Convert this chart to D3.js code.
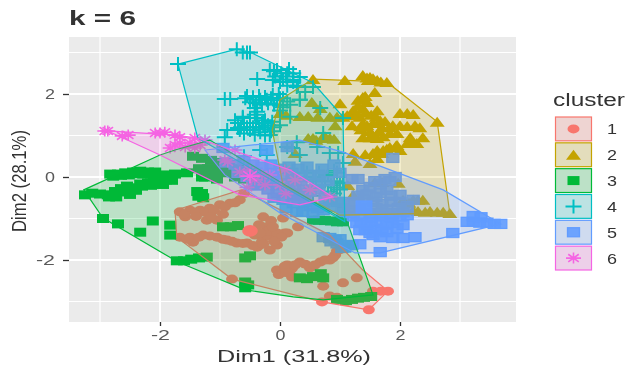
<!DOCTYPE html>
<html>
<head>
<meta charset="utf-8">
<script src="https://cdn.jsdelivr.net/npm/d3@7"></script>
<style>
html, body { margin: 0; padding: 0; background: #fff; }
svg { display: block; filter: blur(0.6px); font-family: "Liberation Sans", Arial, sans-serif; }
</style>
</head>
<body>
<div id="chart"></div>
<script>
const clusters = ["1", "2", "3", "4", "5", "6"];
const colors = ["#F8766D", "#C4A300", "#00BA38", "#00BFC4", "#619CFF", "#F564E3"];
const xTicks = [-2, 0, 2];
const yTicks = [-2, 0, 2];
const xMinor = [-3, -1, 1, 3];
const yMinor = [-3, -1, 1, 3];

// [Dim1, Dim2]
const points1 = [[-1.67,-.84],[-1.5,-.8],[-1.33,-.8],[-1.17,-.75],[-1,-.67],[-.83,-.63],[-.67,-.55],[-.6,-.4],[-1.22,-1.04],[-1.05,-1.04],[-1.58,-.96],[-1.67,-1.45],[-1.5,-1.45],[-1.45,-1.57],[-1.28,-1.4],[-1.05,-1.45],[-.88,-1.52],[-.72,-1.59],[-.55,-1.59],[-.38,-1.69],[-.28,-1.45],[-.12,-1.35],[.12,-1.35],[-.22,-1.2],[-.17,-1.76],[-.05,-1.64],[-.28,-.96],[.05,-.99],[-.05,-2.24],[.12,-2.12],[.33,-2.05],[.17,-2.24],[.5,-2.19],[.67,-2.05],[.83,-2],[.92,-1.88],[.2,-2.41],[.72,-2.63],[1.05,-2.55],[1.28,-2.43],[.83,-2.87],[.7,-3.01],[1.48,-3.2],[1.55,-2.75],[1.68,-2.75],[1.8,-2.75],[-.8,-2.46],[.3,-1.2],[.08,-1.35],[-.42,-1.4],[-.35,-1.15],[-.15,-1.05],[.95,-2.9],[1.1,-3],[-1.6,-.9],[-1.4,-.85],[-1.25,-.85],[-1.1,-.8],[-.92,-.72],[-.75,-.62],[-.95,-.9],[-1.15,-.95],[-1.4,-.95],[-1.55,-1.5],[-1.35,-1.45],[-1.17,-1.42],[-.95,-1.5],[-.8,-1.55],[-.62,-1.6],[-.45,-1.65],[-.3,-1.55],[-.2,-1.42],[-.2,-1.3],[-.05,-1.35],[.02,-1.45],[-.1,-1.55],[-.12,-1.2],[-.28,-1.62],[-.33,-1.35],[.2,-2.2],[.08,-2.15],[.25,-2.12],[.42,-2.1],[.58,-2.12],[.75,-2],[.88,-1.95],[.95,-1.78],[-.02,-2.35],[.1,-2.3],[1,-1.75]];
const points2 = [[.55,2.36],[1.08,2.34],[1.38,2.46],[1.5,2.41],[1.62,2.34],[1.78,2.29],[1.47,2.34],[1.58,2.05],[1.38,1.93],[1.3,1.86],[1,1.78],[1.45,1.81],[1.22,1.61],[1.38,1.66],[1.62,1.61],[2.12,1.54],[2.22,1.52],[2,1.54],[2.62,1.33],[1.12,1.49],[1.33,1.45],[.95,1.45],[.83,1.45],[1.05,1.45],[1.67,1.37],[1.88,1.25],[2.12,1.23],[2.33,1.2],[1.2,1.25],[1.45,1.25],[1.95,1.06],[1.83,1.06],[2.17,.96],[2.38,.96],[1.5,.96],[1.38,.96],[1.62,.94],[.55,.94],[.7,.94],[.83,.94],[.47,.94],[.92,1.25],[1.95,.77],[2.12,.82],[2.28,.82],[1.83,.72],[1.62,.65],[1.72,.65],[2,.65],[1.22,.58],[1.42,.55],[1.25,.39],[1.5,.34],[1.62,.46],[.25,.58],[.53,1.81],[.67,1.66],[.33,1.47],[.47,1.47],[.63,1.45],[1.13,-.19],[1.7,-.12],[1.58,-.12],[1.97,-.14],[2.05,-.55],[2.22,-.55],[2.38,-.55],[2.22,-.8],[2.42,-.84],[2.62,-.84],[2.83,-.87],[1.22,-.43],[0,1.54],[.1,1.5],[1.45,2.4],[1.55,2.38],[1.68,2.3],[1.3,1.72],[1.42,1.95],[1.2,1.5],[1.28,1.5],[1.42,1.55],[1.52,1.5],[1.6,1.45],[1.75,1.35],[1.55,1.3],[1.7,1.2],[1.82,1.2],[2,1.25],[2.25,1.25],[1.35,1.15],[1.5,1.1],[1.65,1.1],[1.55,1],[1.72,.98],[1.93,.75],[1.78,.68],[2.2,.85],[1.7,.58],[1.55,.58],[.6,.9],[.75,.98],[.9,.92],[2.5,-.82],[2.72,-.84],[2.3,-.82],[2.3,-.55],[2.15,-.62]];
const points3 = [[-3.25,-.43],[-3.13,-.39],[-3,-.41],[-2.87,-.43],[-2.73,-.48],[-2.62,-.36],[-2.5,-.31],[-2.42,-.26],[-2.33,-.17],[-2.2,-.14],[-2.1,-.1],[-2,-.12],[-1.9,-.07],[-1.8,-.08],[-2.83,.07],[-2.7,.07],[-2.58,.1],[-2.45,.12],[-2.33,.14],[-2.2,.12],[-2.08,.12],[-1.95,.05],[-1.75,.07],[-1.55,.1],[-1.3,0],[-2.95,-1],[-2.7,-1.13],[-2.33,-1.33],[-2.12,-1.06],[-1.83,-1.16],[-1.83,-1.4],[-1.72,-2.02],[-1.6,-2.02],[-1.48,-1.98],[-1.35,-1.95],[-1.22,-1.93],[-.58,-1.95],[-.5,-1.9],[-.58,-2.67],[-.53,-2.6],[-.58,-2.53],[-.95,-1.2],[-.82,-1.2],[-.7,-1.17],[.55,-1.04],[.65,-1.04],[.75,-1.05],[.85,-1.06],[.95,-1.08],[1.05,-1.08],[.33,-2.43],[.45,-2.45],[.55,-2.4],[.68,-2.33],[.72,-2.43],[.95,-2.95],[1.1,-2.98],[1.2,-2.95],[1.3,-2.92],[1.4,-2.9],[1.52,-2.88],[-1.45,.5],[-1.3,.45],[-1.15,.4],[-1,.35],[-.85,.3],[-.7,.2],[-.55,.15],[-.4,.05],[-1.35,.2],[-1.2,.2],[-1.05,.15],[-.9,.1],[-.75,0],[-.6,-.05],[-1.25,0],[-1.05,-.05],[-2.78,.02],[-2.65,.04],[-2.52,.05],[-2.4,.08],[-2.28,.07],[-2.15,.07],[-2.55,-.22],[-2.65,-.28],[-2.75,-.35],[-2.85,-.48],[-2.3,-.22],[-2.4,-.32],[-2.5,-.42],[-1.95,-.18],[-2.15,-.2],[-1.28,-.5],[-1.38,-.35]];
const points4 = [[-1.7,2.72],[-.72,3.08],[-.62,3],[-.55,3],[-.5,3],[-.38,2.36],[-.17,2.58],[-.05,2.58],[.12,2.5],[.22,2.5],[-.12,2.34],[0,2.29],[.22,2.29],[.33,2.41],[-.83,1.88],[-.92,1.88],[-.58,1.9],[-.45,1.86],[-.33,1.86],[-.22,1.86],[-.12,1.98],[0,1.9],[.17,1.74],[.33,1.86],[-.42,1.66],[-.75,1.37],[-.62,1.42],[-.5,1.42],[-.38,1.42],[-.25,1.37],[-.13,1.33],[-.67,1.13],[-.5,1.13],[-.33,1.08],[-.17,1.01],[-.7,1.18],[0,1.25],[-.88,1.13],[-.92,.96],[-.38,1.57],[0,1.6],[.22,2.34],[.28,2.17],[.67,1.66],[.55,2.17],[.33,1.86],[.17,1.45],[1.05,1.42],[.72,1.06],[.83,.58],[.62,.72],[.28,.84],[.2,.7],[.33,.53],[.97,.58],[1.05,.34],[.95,.1],[1.05,-.14],[.7,-.2],[.8,-.35],[.9,-.4],[1,-.3],[-.33,.65],[-.22,.53],[.12,.72],[-.6,.5],[.45,.1],[.6,0],[.55,-.45],[.3,-.3],[-.7,1.3],[-.6,1.3],[-.5,1.3],[-.4,1.3],[-.3,1.3],[-.2,1.25],[-.1,1.2],[-.65,1.2],[-.55,1.2],[-.45,1.2],[-.35,1.2],[-.25,1.15],[-.15,1.1],[-.6,1.05],[-.42,1.02],[-.25,1],[-.62,1.45],[-.42,1.5],[-.55,1.95],[-.45,1.92],[-.35,1.95],[-.25,1.93],[-.15,1.9],[-.05,1.85],[.05,1.9],[.12,1.82],[-.5,1.8],[-.4,1.78],[-.3,1.75],[-.2,1.78],[-.1,1.75],[0,1.72],[.05,1.68],[-.02,2],[-.1,2.55],[.02,2.5],[.1,2.42],[.15,2.6],[-.08,2.42],[.05,2.35],[.3,2.2],[.12,2.2],[.42,2.05],[.85,-.2],[.9,-.1],[.95,-.25],[1,-.15],[.75,-.1],[.6,-.25],[.55,-.1],[.65,.1],[.8,.05],[.9,.15]];
const points5 = [[3.12,-1.08],[3.22,-1.08],[3.33,-1.1],[3.45,-1.1],[3.57,-1.13],[3.68,-1.13],[3.22,-.94],[3.35,-.97],[2.88,-1.35],[1.67,-1.81],[1.88,-1.47],[2.05,-1.47],[2.25,-1.45],[.83,-.72],[1.05,-.84],[1.05,-.75],[1.17,-.87],[1.33,-.8],[1.5,-.87],[1.67,-.87],[1.88,-.87],[2.12,-.92],[1.28,-1.11],[1.45,-1.16],[1.67,-1.08],[1.88,-1.11],[2.05,-1.16],[1.33,-1.28],[1.55,-1.4],[1.67,-1.45],[1.78,-1.33],[1.95,-1.23],[1.05,-.6],[1.38,-.31],[1.5,-.24],[1.67,-.39],[1.78,-.31],[2,-.43],[2.22,-.55],[1.58,-.1],[1.75,-.05],[1.92,0],[1.83,-.1],[1.67,-.17],[1.88,.46],[1.2,-.05],[1.3,-.05],[.28,-.84],[.38,-.84],[.55,-.87],[.1,-.75],[1.03,-1.71],[1.12,-1.64],[1.2,-1.64],[1.33,-1.62],[.83,-1.47],[.72,-1.45],[.92,-1.52],[-.22,.65],[-.95,.7],[.12,.72],[-.33,0],[-.12,.1],[-.55,0],[-.22,-.14],[-.42,-.2],[-.05,-.39],[.22,-.63],[.15,-.3],[.35,-.1],[.5,-.35],[.6,-.15],[.75,-.5],[.2,.1],[.45,.25],[.7,.2],[.85,-.55],[.95,-.6],[1.15,-.65],[1.25,-.6],[1.4,-.55],[1.55,-.6],[1.7,-.65],[1.85,-.6],[2,-.6],[2.12,-.7],[1.2,-.8],[1.42,-.75],[1.6,-.75],[1.78,-.78],[1.97,-.75],[2.05,-.85],[1.22,-.95],[1.35,-.95],[1.52,-.98],[1.7,-.95],[1.85,-.98],[2,-.95],[1.35,-1.1],[1.52,-1.1],[1.78,-1.15],[1.42,-1.28],[1.6,-1.25],[1.7,-1.3],[1.5,-1.35],[1.3,-.45],[1.45,-.42],[1.6,-.48],[1.85,-.45],[.3,-.55],[.42,-.6],[.5,-.7],[.62,-.75],[.72,-.8],[-.9,.35],[-.75,.3],[-.6,.4],[-.45,.3],[-.3,.25],[-.15,.3],[0,.2],[.15,.25],[.3,.2],[-.7,.1],[-.55,.15],[-.4,.1],[-.25,.05],[-.1,-.05],[.05,0],[.2,-.05],[.35,0],[.5,.05],[.65,.05],[-.35,-.2],[-.2,-.3],[-.05,-.2],[.1,-.15],[.25,-.2],[.4,-.3],[-.1,-.5],[.05,-.55],[.2,-.45],[.35,-.45],[.65,-.3],[.8,-.1],[1,.1],[.9,.3],[1.08,-1.7],[.95,-1.6],[.85,-1.55],[1,-1.5]];
const points6 = [[-2.87,1.11],[-2.92,1.11],[-2.63,.99],[-2.53,1.01],[-2.08,1.06],[-2,1.06],[-1.92,1.08],[-1.75,1.01],[-1.67,.96],[-1.42,.94],[-1.83,.7],[-1.75,.77],[-1.67,.82],[-1.58,.72],[-1.5,.82],[-1.42,.7],[-1.33,.77],[-1.25,.89],[-.92,.41],[-.87,.36],[-.75,.65],[-.67,.12],[-.5,.17],[-.3,.05],[-.17,.05],[-.42,-.07],[-.25,-.19],[.08,.17],[.25,-.07],[0,-.19],[.5,-.31],[.83,-.48],[-.55,-.25],[.1,-.4]];
const centroids = [[-.5,-1.3],[1.38,1.26],[-1.33,-.43],[-.28,1.3],[1.4,-.72],[-.5,.02]];

const hull1 = [[-1.75,-.8],[-.65,-.31],[.83,-1.4],[1.38,-2.24],[1.8,-2.75],[1.48,-3.2],[.7,-3.01],[-.8,-2.46],[-1.72,-1.45]];
const hull2 = [[-.13,1.13],[0,1.86],[.55,2.36],[1.78,2.29],[2.62,1.33],[2.83,-.87],[1,-.92],[.05,-.19]];
const hull3 = [[-3.27,-.31],[-2.95,-.99],[-1.7,-2.05],[-.58,-2.72],[.22,-2.89],[.72,-2.96],[1.55,-2.84],[1.12,-1.08],[-1.17,.89],[-1.75,.65],[-2,.53]];
const hull4 = [[-1.7,2.72],[-.72,3.08],[-.5,3.01],[.55,2.27],[1.05,1.45],[1.08,-1.08],[-1.37,.94]];
const hull5 = [[-1.25,.65],[.33,.89],[1.05,.6],[2.72,-.31],[3.68,-1.13],[1.67,-1.83],[1.25,-1.83],[0,-.87],[-.92,.05]];
const hull6 = [[-2.87,1.11],[-1.75,1.01],[-1.38,.94],[.17,.17],[.88,-.48],[.33,-.67],[-.67,-.43],[-2,.53]];

const allPoints = [points1, points2, points3, points4, points5, points6];
const hulls = [hull1, hull2, hull3, hull4, hull5, hull6];

let fullWidth = 627, fullHeight = 369;
let panel = { left: 69, right: 516, top: 37, bottom: 322 };

let svg = d3.select("#chart").append("svg")
    .attr("width", fullWidth)
    .attr("height", fullHeight);

// 60px per unit on Dim1, 41.5px on Dim2
let x = d3.scaleLinear().domain([-2, 2]).range([160, 400]);
let y = d3.scaleLinear().domain([-2, 2]).range([260, 94]);

// Nền và lưới
svg.append("rect")
    .attr("x", panel.left).attr("y", panel.top)
    .attr("width", panel.right - panel.left)
    .attr("height", panel.bottom - panel.top)
    .attr("fill", "#ebebeb");

let grid = svg.append("g");
grid.selectAll(".minorx").data(xMinor).enter().append("line")
    .attr("x1", d => x(d)).attr("x2", d => x(d))
    .attr("y1", panel.top).attr("y2", panel.bottom)
    .attr("stroke", "#fff").attr("stroke-width", 1.2);
grid.selectAll(".minory").data(yMinor).enter().append("line")
    .attr("y1", d => y(d)).attr("y2", d => y(d))
    .attr("x1", panel.left).attr("x2", panel.right)
    .attr("stroke", "#fff").attr("stroke-width", 1.2);
grid.selectAll(".majorx").data(xTicks).enter().append("line")
    .attr("x1", d => x(d)).attr("x2", d => x(d))
    .attr("y1", panel.top).attr("y2", panel.bottom)
    .attr("stroke", "#fff").attr("stroke-width", 2);
grid.selectAll(".majory").data(yTicks).enter().append("line")
    .attr("y1", d => y(d)).attr("y2", d => y(d))
    .attr("x1", panel.left).attr("x2", panel.right)
    .attr("stroke", "#fff").attr("stroke-width", 2);

// one drawing per cluster shape, wider than tall like the picture
function drawMark(g, i, cx, cy, k) {
    let c = colors[i];
    if (i === 0) {
        g.append("ellipse").attr("cx", cx).attr("cy", cy).attr("rx", 6 * k).attr("ry", 4.5 * k).attr("fill", c);
    } else if (i === 1) {
        let w = 7.5 * k, h = 5 * k;
        g.append("path").attr("d", `M${cx - w},${cy + h}L${cx},${cy - h}L${cx + w},${cy + h}Z`).attr("fill", c);
    } else if (i === 2) {
        g.append("rect").attr("x", cx - 6 * k).attr("y", cy - 4.5 * k).attr("width", 12 * k).attr("height", 9 * k).attr("fill", c);
    } else if (i === 3) {
        let w = 8 * k, h = 7 * k;
        g.append("path").attr("d", `M${cx - w},${cy}H${cx + w}M${cx},${cy - h}V${cy + h}`)
            .attr("stroke", c).attr("stroke-width", 2).attr("fill", "none");
    } else if (i === 4) {
        g.append("rect").attr("x", cx - 6 * k).attr("y", cy - 4.5 * k).attr("width", 12 * k).attr("height", 9 * k)
            .attr("fill", c).attr("fill-opacity", 0.9).attr("stroke", c).attr("stroke-width", 1.3);
    } else {
        let w = 7.5 * k, h = 5.5 * k, d = 0.7;
        g.append("path").attr("d", `M${cx - w},${cy}H${cx + w}M${cx},${cy - h}V${cy + h}M${cx - w * d},${cy - h * d}L${cx + w * d},${cy + h * d}M${cx - w * d},${cy + h * d}L${cx + w * d},${cy - h * d}`)
            .attr("stroke", c).attr("stroke-width", 1.6).attr("fill", "none");
    }
}

let pointLayer = svg.append("g");
allPoints.forEach((pts, i) => {
    pts.forEach(p => drawMark(pointLayer, i, x(p[0]), y(p[1]), 1));
});

// Vẽ các đa giác bao
svg.append("g").selectAll("path")
    .data(hulls)
    .enter()
    .append("path")
    .attr("d", d => d3.line().x(p => x(p[0])).y(p => y(p[1])).curve(d3.curveLinearClosed)(d))
    .attr("fill", (d, i) => colors[i])
    .attr("fill-opacity", 0.2)
    .attr("stroke", (d, i) => colors[i])
    .attr("stroke-width", 1.2);

let centroidLayer = svg.append("g");
centroids.forEach((p, i) => drawMark(centroidLayer, i, x(p[0]), y(p[1]), 1.3));

// Trục
let tickText = d => d < 0 ? "-" + Math.abs(d) : "" + d;
svg.append("g")
    .attr("transform", `translate(0,${panel.bottom})`)
    .call(d3.axisBottom(x).tickValues(xTicks).tickFormat(tickText).tickSize(4).tickPadding(4));
svg.append("g")
    .attr("transform", `translate(${panel.left},0)`)
    .call(d3.axisLeft(y).tickValues(yTicks).tickFormat(tickText).tickSize(6).tickPadding(8));
svg.selectAll(".domain").remove();
svg.selectAll(".tick line").attr("stroke", "#333").attr("stroke-width", 1.3);
svg.selectAll(".tick text")
    .style("font-size", "14px").style("fill", "#5a5a5a").style("font-family", "Liberation Sans")
    .attr("textLength", d => d < 0 ? 19 : 10)
    .attr("lengthAdjust", "spacingAndGlyphs");

svg.append("text")
    .attr("x", 69).attr("y", 25)
    .attr("textLength", 67).attr("lengthAdjust", "spacingAndGlyphs")
    .style("font-size", "20px").style("font-weight", "bold").style("fill", "#333")
    .text("k = 6");

svg.append("text")
    .attr("x", 294).attr("y", 362)
    .attr("text-anchor", "middle")
    .attr("textLength", 154).attr("lengthAdjust", "spacingAndGlyphs")
    .style("font-size", "16px").style("fill", "#333")
    .text("Dim1 (31.8%)");

svg.append("text")
    .attr("transform", "translate(26,181) rotate(-90)")
    .attr("text-anchor", "middle")
    .attr("textLength", 102).attr("lengthAdjust", "spacingAndGlyphs")
    .style("font-size", "20px").style("fill", "#333")
    .text("Dim2 (28.1%)");

// Chú thích
svg.append("text")
    .attr("x", 553).attr("y", 106)
    .attr("textLength", 72).attr("lengthAdjust", "spacingAndGlyphs")
    .style("font-size", "18px").style("fill", "#333")
    .text("cluster");

let legendY = d3.scaleBand().domain(clusters).range([116, 271]);
let legend = svg.append("g");
clusters.forEach((c, i) => {
    let top = legendY(c), h = legendY.bandwidth();
    legend.append("rect").attr("x", 555.5).attr("y", top + 1).attr("width", 36).attr("height", h - 2)
        .attr("fill", "#ebebeb");
    legend.append("rect").attr("x", 555.5).attr("y", top + 1).attr("width", 36).attr("height", h - 2)
        .attr("fill", colors[i]).attr("fill-opacity", 0.2)
        .attr("stroke", colors[i]).attr("stroke-width", 1.2);
    drawMark(legend, i, 573.5, top + h / 2, 1);
    legend.append("text")
        .attr("x", 607).attr("y", top + h / 2 + 5.5)
        .attr("textLength", 10).attr("lengthAdjust", "spacingAndGlyphs")
        .style("font-size", "15px").style("fill", "#333")
        .text(c);
});
</script>
</body>
</html>
